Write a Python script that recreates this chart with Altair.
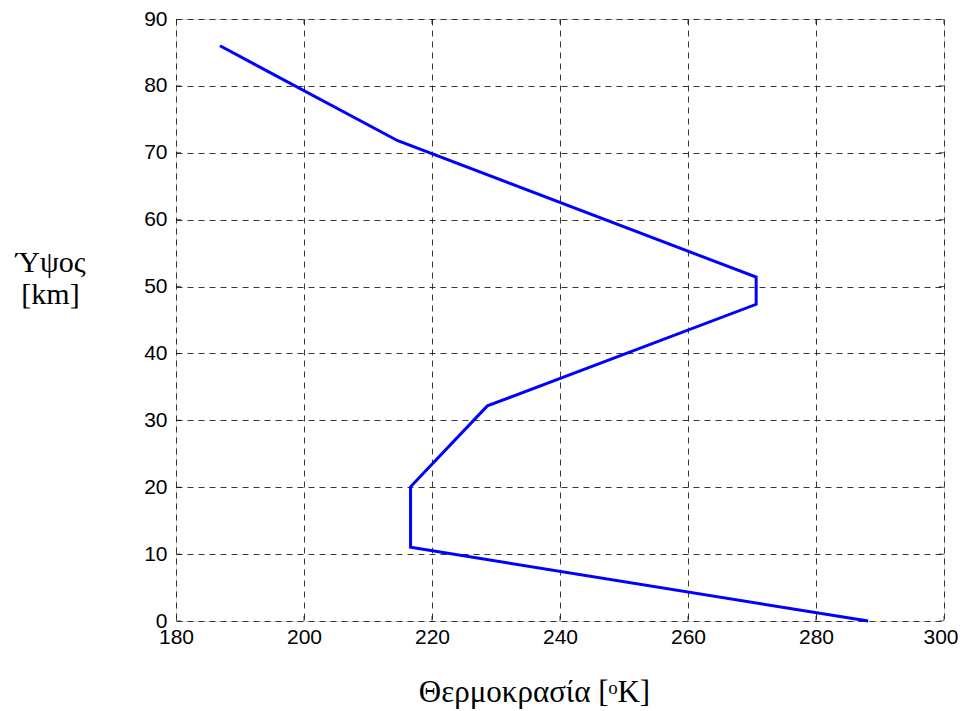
import altair as alt
import pandas as pd

# Standard atmosphere profile
altitude_km = [0.0, 11.019, 20.063, 32.162, 47.350, 51.413, 71.802, 86.0]
temperature_K = [288.15, 216.65, 216.65, 228.65, 270.65, 270.65, 214.65, 186.87]

x_ticks = [180, 200, 220, 240, 260, 280, 300]
y_ticks = [0, 10, 20, 30, 40, 50, 60, 70, 80, 90]

x_title = "Θερμοκρασία [ᵒK]"
y_title = ["Ύψος", "[km]"]

df = pd.DataFrame({"T": temperature_K, "h": altitude_km, "order": list(range(len(altitude_km)))})
dfx = pd.DataFrame({"t": x_ticks})
dfy = pd.DataFrame({"t": y_ticks})

W, H = 768, 602
last_x = x_ticks[-1]

xscale = alt.Scale(domain=[180, 300], nice=False, zero=False)
yscale = alt.Scale(domain=[0, 90], nice=False, zero=False)

grid_axis = dict(
    grid=True, gridColor="#222222", gridDash=[6, 5], gridWidth=1, gridOpacity=0.9,
    domain=False, ticks=False, labelFlush=False,
    labelFont="Liberation Sans", labelFontSize=21, labelColor="black",
)

line = alt.Chart(df).mark_line(color="#0000ff", strokeWidth=3).encode(
    x=alt.X("T:Q", scale=xscale,
            axis=alt.Axis(values=x_ticks, title=x_title, labelPadding=5,
                          labelAlign={"condition": {"test": f"datum.value == {last_x}", "value": "right"},
                                      "value": "center"},
                          labelOffset={"condition": {"test": f"datum.value == {last_x}", "value": 14},
                                       "value": 0},
                          titleFont="Liberation Serif", titleFontSize=31, titleFontWeight="normal",
                          titleColor="black", titleBaseline="alphabetic", titleY=80, titleX=W / 2 - 26,
                          titleAlign="center", **grid_axis)),
    y=alt.Y("h:Q", scale=yscale,
            axis=alt.Axis(values=y_ticks, title=y_title, labelPadding=9,
                          titleFont="Liberation Serif", titleFontSize=30, titleFontWeight="normal",
                          titleColor="black", titleAngle=0, titleAlign="center",
                          titleBaseline="alphabetic", titleX=-126, titleY=252, titleLineHeight=32,
                          **grid_axis)),
    order="order:O",
)

tick_len = 10
bottom_ticks = alt.Chart(dfx).mark_tick(color="black", size=tick_len, thickness=1, clip=True).encode(
    x=alt.X("t:Q", scale=xscale), y=alt.value(H))
top_ticks = alt.Chart(dfx).mark_tick(color="black", size=tick_len, thickness=1, clip=True).encode(
    x=alt.X("t:Q", scale=xscale), y=alt.value(0))
left_ticks = alt.Chart(dfy).mark_tick(color="black", size=tick_len, thickness=1, clip=True).encode(
    y=alt.Y("t:Q", scale=yscale), x=alt.value(0))
right_ticks = alt.Chart(dfy).mark_tick(color="black", size=tick_len, thickness=1, clip=True).encode(
    y=alt.Y("t:Q", scale=yscale), x=alt.value(W))

chart = alt.layer(line, bottom_ticks, top_ticks, left_ticks, right_ticks).properties(
    width=W, height=H,
    autosize=alt.AutoSizeParams(type="none"),
    padding={"left": 168, "top": 11, "right": 14, "bottom": 90},
).configure_view(
    stroke="black", strokeWidth=1, fill="white"
).configure(background="white")

chart.save("out.html", embed_options={"renderer": "svg", "actions": False})
